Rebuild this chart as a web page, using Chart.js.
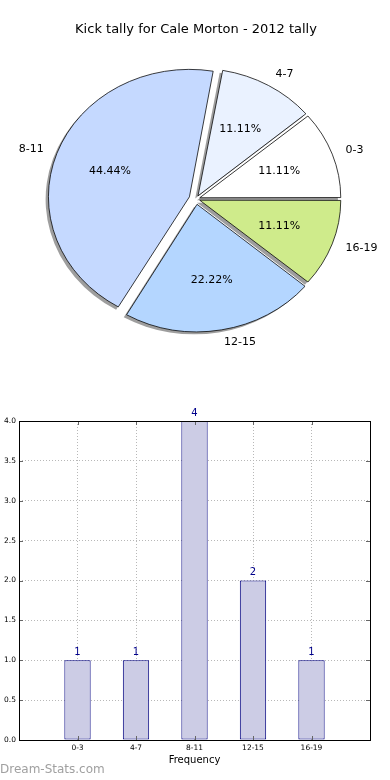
<!DOCTYPE html>
<html><head><meta charset="utf-8">
<script src="https://cdn.jsdelivr.net/npm/chart.js@4/dist/chart.umd.min.js"></script>
<style>
html,body{margin:0;padding:0;background:#fff;width:390px;height:780px;overflow:hidden;position:relative;}
#pieCanvas{position:absolute;left:0;top:0;}
#barCanvas{position:absolute;left:0;top:390px;}
#wm{position:absolute;left:0;top:762px;font-family:'DejaVu Sans';font-size:12px;color:#a0a0a0;line-height:14px;white-space:nowrap;}
</style></head><body>
<canvas id="pieCanvas" width="390" height="390"></canvas>
<canvas id="barCanvas" width="390" height="390"></canvas>
<div id="wm">Dream-Stats.com</div>
<script>
// ---- data ----
const chartTitle = 'Kick tally for Cale Morton - 2012 tally';
const categories = ['0-3', '4-7', '8-11', '12-15', '16-19'];
const counts = [1, 1, 4, 2, 1];
const yTickValues = [0.0, 0.5, 1.0, 1.5, 2.0, 2.5, 3.0, 3.5, 4.0];
const xAxisTitle = 'Frequency';

// ---- styles ----
const sliceColors = ['#ffffff', '#eaf2ff', '#c5d9ff', '#b4d6ff', '#cfeb8b'];
const sliceOffsets = [16, 16, 28, 24, 16];
const SY = 0.904;
const FONT = 'DejaVu Sans';

// matplotlib draws counter-clockwise from east; Chart.js draws clockwise, so reverse
const pieLabels = categories.slice().reverse();
const pieValues = counts.slice().reverse();
const pieColors = sliceColors.slice().reverse();
const pieOffsets = sliceOffsets.slice().reverse();
const total = counts.reduce((a, b) => a + b, 0);

const piePlugin = {
  id: 'pieLook',
  beforeDatasetsDraw(chart) {
    const meta = chart.getDatasetMeta(0);
    const ctx = chart.ctx;
    const baseR = meta.controller.outerRadius;
    const cy = meta.data[0].y;
    meta.data.forEach(arc => {
      const circ = arc.endAngle - arc.startAngle;
      const fix = 1 - Math.sin(Math.min(Math.PI, circ));
      arc.outerRadius = baseR - (arc.options.offset / 4) * fix;
    });
    ctx.save();
    ctx.translate(0, cy); ctx.scale(1, SY); ctx.translate(0, -cy);
    ctx.save();
    ctx.translate(-2.8, 2.8);
    ctx.fillStyle = 'rgba(40,40,40,0.45)';
    meta.data.forEach(arc => {
      const mid = (arc.startAngle + arc.endAngle) / 2;
      const d = arc.options.offset / 4;
      const ox = arc.x + Math.cos(mid) * d, oy = arc.y + Math.sin(mid) * d;
      ctx.beginPath(); ctx.moveTo(ox, oy);
      ctx.arc(ox, oy, baseR, arc.startAngle, arc.endAngle);
      ctx.closePath(); ctx.fill();
    });
    ctx.restore();
  },
  afterDatasetsDraw(chart) {
    const ctx = chart.ctx;
    ctx.restore();
    const meta = chart.getDatasetMeta(0);
    const baseR = meta.controller.outerRadius;
    ctx.save();
    ctx.font = '11px "' + FONT + '"';
    ctx.fillStyle = '#000';
    ctx.textBaseline = 'middle';
    meta.data.forEach((arc, j) => {
      const mid = (arc.startAngle + arc.endAngle) / 2;
      const d = arc.options.offset / 4;
      const c = Math.cos(mid), s = Math.sin(mid);
      const lx = arc.x + c * (d + 1.1 * baseR), ly = arc.y + s * (d + 1.1 * baseR) * SY;
      ctx.textAlign = c > 0 ? 'left' : 'right';
      ctx.fillText(pieLabels[j], lx, ly);
      const px = arc.x + c * (d + 0.6 * baseR), py = arc.y + s * (d + 0.6 * baseR) * SY;
      ctx.textAlign = 'center';
      ctx.fillText((pieValues[j] / total * 100).toFixed(2) + '%', px, py);
    });
    ctx.restore();
  }
};

new Chart(document.getElementById('pieCanvas'), {
  type: 'pie',
  data: {
    labels: pieLabels,
    datasets: [{
      data: pieValues,
      backgroundColor: pieColors,
      borderColor: '#000',
      borderWidth: 0.8,
      offset: pieOffsets,
      hoverOffset: 0,
      rotation: 90,
      radius: 141,
      clip: false
    }]
  },
  options: {
    responsive: false, animation: false, events: [],
    layout: { padding: { left: 2, right: 0, top: 0, bottom: 29.6 } },
    plugins: {
      legend: { display: false }, tooltip: { enabled: false },
      title: { display: true, text: chartTitle, color: '#000',
        font: { family: FONT, size: 13, weight: 'normal' }, padding: { top: 22, bottom: 0 } }
    }
  },
  plugins: [piePlugin]
});

const barPlugin = {
  id: 'barLook',
  afterDatasetsDraw(chart) {
    const ctx = chart.ctx;
    const meta = chart.getDatasetMeta(0);
    ctx.save();
    ctx.font = '10px "' + FONT + '"';
    ctx.fillStyle = '#00008b';
    ctx.textAlign = 'center';
    ctx.textBaseline = 'bottom';
    meta.data.forEach((bar, i) => { ctx.fillText(String(counts[i]), bar.x, bar.y - 3); });
    ctx.restore();
  },
  afterDraw(chart) {
    const ctx = chart.ctx;
    const a = chart.chartArea;
    const xs = chart.scales.x, ys = chart.scales.y;
    ctx.save();
    ctx.strokeStyle = '#666'; ctx.lineWidth = 1;
    ctx.beginPath();
    yTickValues.forEach(v => {
      const y = Math.round(ys.getPixelForValue(v)) + 0.5;
      ctx.moveTo(a.left, y); ctx.lineTo(a.left + 4, y);
      ctx.moveTo(a.right - 4, y); ctx.lineTo(a.right, y);
    });
    categories.forEach((c, i) => {
      const x = Math.round(xs.getPixelForValue(i + 1)) + 0.5;
      ctx.moveTo(x, a.bottom); ctx.lineTo(x, a.bottom - 4);
      ctx.moveTo(x, a.top); ctx.lineTo(x, a.top + 4);
    });
    ctx.stroke();
    ctx.strokeStyle = '#000';
    ctx.strokeRect(Math.round(a.left) + 0.5, Math.round(a.top) + 0.5, Math.round(a.right - a.left), Math.round(a.bottom - a.top));
    ctx.restore();
  }
};

const gridOpts = { color: '#b8b8b8', lineWidth: 1, drawTicks: false, borderDash: [1, 2], offset: false };
const borderOpts = { display: false, dash: [1, 2] };

new Chart(document.getElementById('barCanvas'), {
  type: 'bar',
  data: {
    datasets: [{
      data: counts.map((v, i) => ({ x: i + 1, y: v })),
      backgroundColor: '#ccccE5',
      borderColor: '#000080',
      borderWidth: 1,
      borderSkipped: false,
      barPercentage: 0.45,
      categoryPercentage: 1
    }]
  },
  options: {
    responsive: false, animation: false, events: [],
    layout: { padding: { top: 31, right: 20, left: 0, bottom: 0 } },
    plugins: { legend: { display: false }, tooltip: { enabled: false } },
    scales: {
      x: {
        type: 'linear', min: 0, max: categories.length + 1, z: 1, offset: false,
        afterBuildTicks: s => { s.ticks = categories.map((c, i) => ({ value: i + 1 })); },
        afterFit: s => { s.height = 40; },
        ticks: { callback: v => categories[v - 1] || '', font: { family: FONT, size: 7.5 }, color: '#000', padding: 4, maxRotation: 0, autoSkip: false },
        grid: gridOpts, border: borderOpts,
        title: { display: true, text: xAxisTitle, color: '#000', font: { family: FONT, size: 10 }, padding: { top: 0, bottom: 14 } }
      },
      y: {
        min: 0, max: 4, z: 1,
        afterBuildTicks: s => { s.ticks = yTickValues.map(v => ({ value: v })); },
        afterFit: s => { s.width = 19; },
        ticks: { callback: v => Number(v).toFixed(1), font: { family: FONT, size: 7.5 }, color: '#000', padding: 3 },
        grid: gridOpts, border: borderOpts
      }
    }
  },
  plugins: [barPlugin]
});
</script>
</body></html>
